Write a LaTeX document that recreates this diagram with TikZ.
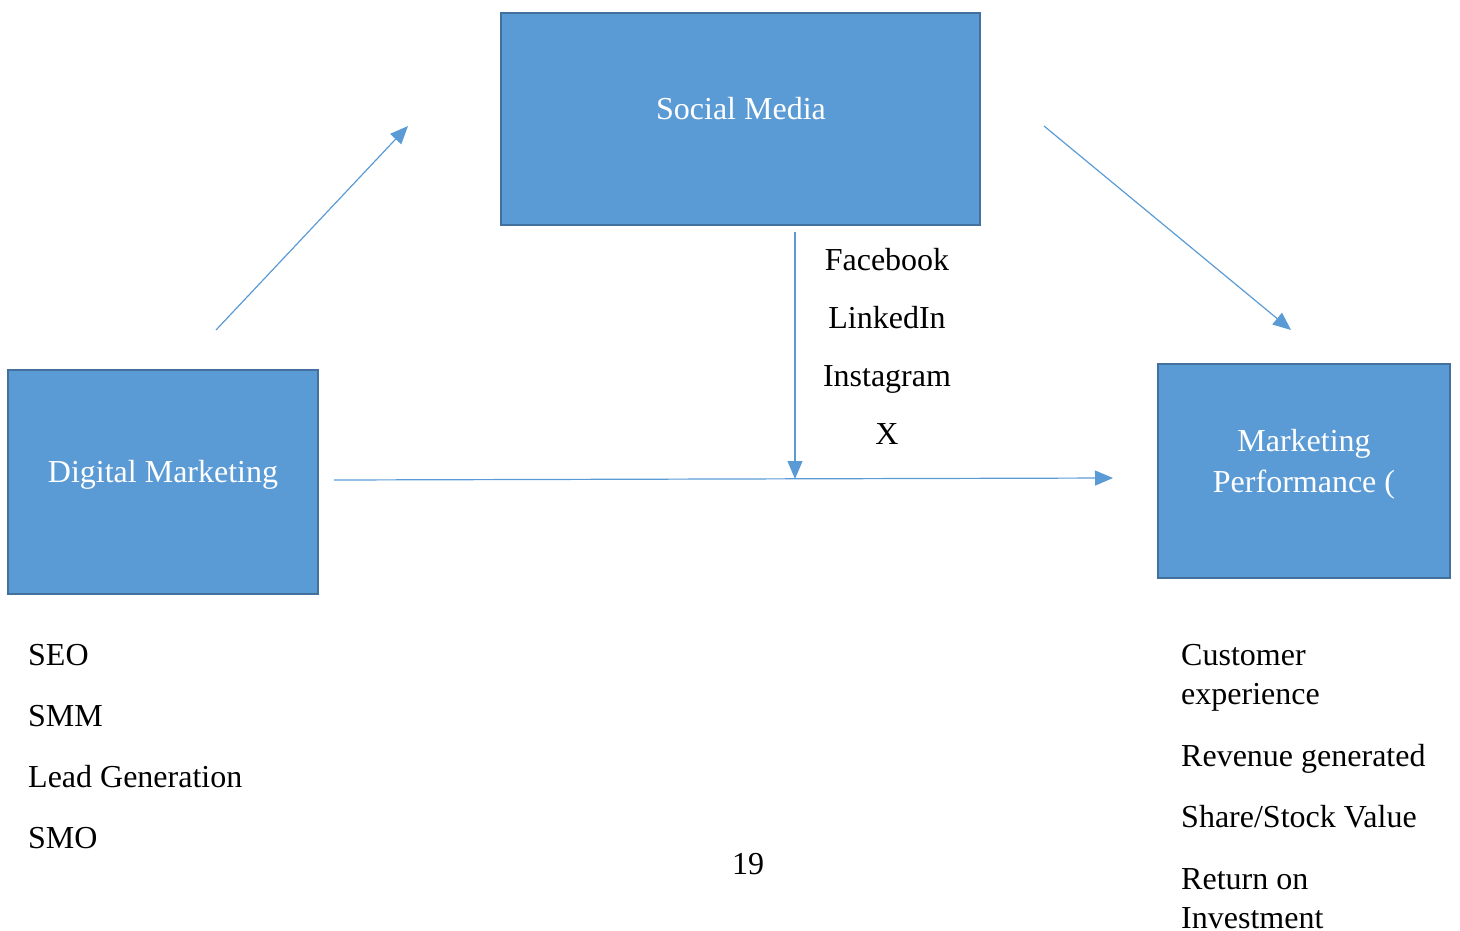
\documentclass[tikz,border=0pt]{standalone}
\usepackage{fontspec}
\setmainfont{Liberation Serif}
\usetikzlibrary{arrows.meta}
\definecolor{boxfill}{HTML}{5B9BD5}
\definecolor{boxline}{HTML}{41719C}
\begin{document}
\begin{tikzpicture}[x=1pt,y=-1pt,
  bluebox/.style={draw=boxline,fill=boxfill,line width=2pt,inner sep=0pt},
  boxtext/.style={text=white,font=\fontsize{32}{41}\selectfont,align=center,inner sep=0pt,anchor=base},
  plain/.style={font=\fontsize{32}{39}\selectfont,inner sep=0pt,anchor=base},
  plainl/.style={plain,anchor=base west,align=left},
  conn/.style={draw=boxfill,line width=1.2pt,-{Triangle[length=18pt,width=15pt]}}]
\useasboundingbox (0,0) rectangle (1460,930);
% boxes
\node[bluebox,minimum width=479pt,minimum height=212pt] (sm) at (740.5,119) {};
\node[bluebox,minimum width=310pt,minimum height=224pt] (dm) at (163,482) {};
\node[bluebox,minimum width=292pt,minimum height=214pt] (mp) at (1304,471) {};
\node[boxtext] (smt) at (741,119) {Social Media};
\node[boxtext] (dmt) at (163,482) {Digital Marketing};
\node[boxtext] (mpt) at (1304,492) {Marketing\\Performance (};
% connector end points
\coordinate (a1s) at (216,330);
\coordinate (a1e) at (408,126);
\coordinate (a2s) at (1044,126);
\coordinate (a2e) at (1291,330);
\coordinate (a3s) at (795,232);
\coordinate (a3e) at (795,479);
\coordinate (a4s) at (334,480);
\coordinate (a4e) at (1113,478);
\draw[conn] (a1s) -- (a1e);
\draw[conn] (a2s) -- (a2e);
\draw[conn] (a3s) -- (a3e);
\draw[conn] (a4s) -- (a4e);
% social media labels
\node[plain] (fb) at (887,270) {Facebook};
\node[plain] (li) at (887,328) {LinkedIn};
\node[plain] (ig) at (887,386) {Instagram};
\node[plain] (xx) at (887,444) {X};
% left list
\node[plainl] (seo) at (28,665) {SEO};
\node[plainl] (smm) at (28,726) {SMM};
\node[plainl] (lg) at (28,787) {Lead Generation};
\node[plainl] (smo) at (28,848) {SMO};
% right list
\node[plainl] (ce) at (1181,704) {Customer\\experience};
\node[plainl] (rg) at (1181,766) {Revenue generated};
\node[plainl] (ssv) at (1181,827) {Share/Stock Value};
\node[plainl] (roi) at (1181,928) {Return on\\Investment};
% page number
\node[plain] (pg) at (748,874) {19};
\end{tikzpicture}
\end{document}
